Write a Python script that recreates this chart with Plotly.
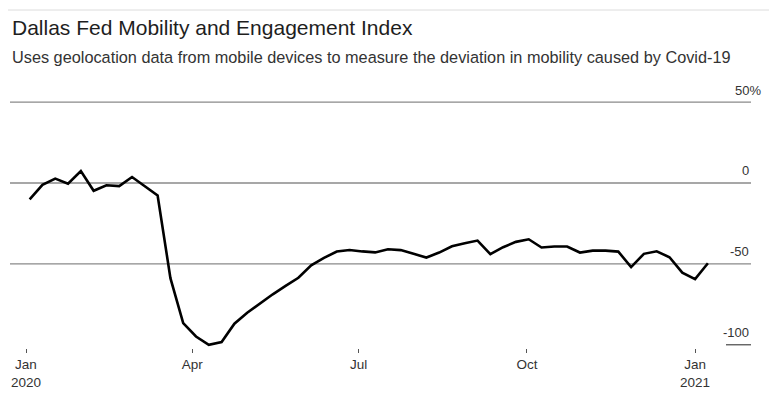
import plotly.graph_objects as go
import pandas as pd

# Weekly index values (percent deviation)
dates = pd.date_range("2020-01-03", periods=54, freq="7D")
values = [
    -10.1, -1.2, 2.7, -0.4, 7.4, -4.8, -1.4, -1.9, 3.7, -1.9,
    -7.7, -58.8, -86.6, -94.9, -100.0, -98.3, -87.0, -80.2, -74.4, -68.8,
    -63.6, -58.6, -50.9, -46.3, -42.4, -41.4, -42.3, -42.9, -41.0, -41.5,
    -43.8, -46.1, -43.0, -39.1, -37.2, -35.6, -44.0, -39.7, -36.4, -34.8,
    -39.9, -39.3, -39.3, -43.0, -41.8, -41.8, -42.4, -52.0, -43.8, -42.2,
    -45.9, -55.4, -59.4, -49.6,
]

x_tickvals = ["2020-01-01", "2020-04-01", "2020-07-01", "2020-10-01", "2021-01-01"]
x_ticktext = ["Jan<br>2020", "Apr", "Jul", "Oct", "Jan<br>2021"]

y_gridvals = [50, 0, -50]
y_labels = {50: "50%", 0: "0", -50: "-50", -100: "-100"}

title = "Dallas Fed Mobility and Engagement Index"
subtitle = "Uses geolocation data from mobile devices to measure the deviation in mobility caused by Covid-19"

FONT = "Liberation Sans, Arial, Helvetica, sans-serif"

# the page places the figure 8px in from the top-left corner
OFF = 8
W, H = 777 - OFF, 400 - OFF
ML = 10 - OFF
PLOT_RIGHT = 751 - OFF
MT = 94 - OFF
PLOT_BOTTOM = 348 - OFF
MR = W - PLOT_RIGHT
MB = H - PLOT_BOTTOM
PW = W - ML - MR
PH = H - MT - MB

def py(page_y):
    return (PLOT_BOTTOM - (page_y - OFF)) / PH

def px(page_x):
    return ((page_x - OFF) - ML) / PW

fig = go.Figure()
fig.add_trace(go.Scatter(
    x=dates, y=values, mode="lines",
    line=dict(color="#000000", width=2.6),
    hoverinfo="skip", showlegend=False,
))

shapes = []
for v in y_gridvals:
    shapes.append(dict(type="line", xref="paper", yref="y", x0=0, x1=1, y0=v, y1=v,
                       line=dict(color="#8a8a8a", width=1.3), layer="below"))
shapes.append(dict(type="line", xref="paper", yref="y", x0=px(726), x1=1,
                   y0=-100, y1=-100, line=dict(color="#555555", width=1.3), layer="below"))
# top rule and faint right border
shapes.append(dict(type="line", xref="paper", yref="paper",
                   x0=px(0), x1=px(777), y0=py(10), y1=py(10),
                   line=dict(color="#dcdcdc", width=1), layer="below"))
shapes.append(dict(type="line", xref="paper", yref="paper",
                   x0=px(774), x1=px(774), y0=py(10), y1=py(400),
                   line=dict(color="#eeeeee", width=1), layer="below"))

annotations = [
    dict(text=title, xref="paper", yref="paper", x=0, y=py(27),
         xanchor="left", yanchor="middle", showarrow=False,
         font=dict(family=FONT, size=21, color="#1e1e1e")),
    dict(text=subtitle, xref="paper", yref="paper", x=0, y=py(57),
         xanchor="left", yanchor="middle", showarrow=False,
         font=dict(family=FONT, size=16.3, color="#333333")),
]
for v, t in y_labels.items():
    xr = px(763) if v == 50 else 1
    annotations.append(dict(text=t, xref="paper", yref="y", x=xr, y=v,
                            xanchor="right", yanchor="middle", yshift=12, showarrow=False,
                            font=dict(family=FONT, size=13, color="#333333")))

fig.update_layout(
    width=W, height=H,
    margin=dict(l=ML, r=MR, t=MT, b=MB, pad=0),
    paper_bgcolor="white", plot_bgcolor="white",
    shapes=shapes, annotations=annotations,
    xaxis=dict(
        type="date",
        range=["2019-12-23 06:00", "2021-01-31 14:00"],
        tickvals=x_tickvals, ticktext=x_ticktext,
        showgrid=False, zeroline=False, showline=False,
        ticks="outside", ticklen=4, tickwidth=1, tickcolor="#555555",
        tickfont=dict(family=FONT, size=13.5, color="#333333"),
    ),
    yaxis=dict(range=[-102, 55], showgrid=False, zeroline=False, showline=False,
               showticklabels=False, ticks=""),
)

fig.write_html("out.html")
